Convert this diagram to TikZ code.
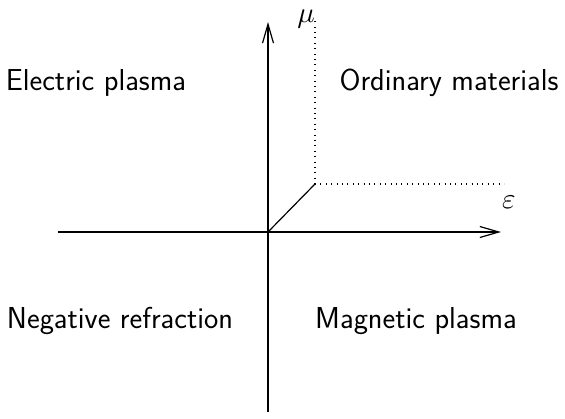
\documentclass[tikz,border=0pt]{standalone}
\usetikzlibrary{arrows.meta}
\begin{document}
\begin{tikzpicture}[x=1pt,y=-1pt,
  axis/.style={line width=1.2pt,-{Straight Barb[length=19pt,width=11pt]}},
  guide/.style={line width=1.3pt,dash pattern=on 0.9pt off 4.5pt},
  region/.style={font=\sffamily\fontsize{30.3}{35}\selectfont,anchor=base,inner sep=0pt},
  sym/.style={scale=2.9,inner sep=0pt}]
\useasboundingbox (0,0) rectangle (565,418);
\coordinate (O) at (268,232);
\coordinate (L) at (58,232);
\coordinate (R) at (501,232);
\coordinate (B) at (268,412);
\coordinate (T) at (268,22);
\coordinate (P) at (315,184);
\coordinate (Pt) at (315,20);
\coordinate (Pr) at (504,184);
\draw[axis] (L) -- (R);
\draw[axis] (B) -- (T);
\draw[guide] (P) -- (Pt);
\draw[guide] (P) -- (Pr);
\draw[line width=1.2pt] (O) -- (P);
\node[sym] (mu) at (306,19) {$\mu$};
\node[sym] (eps) at (509,202) {$\varepsilon$};
\node[region] (ep) at (96,90) {Electric plasma};
\node[region] (om) at (449,90) {Ordinary materials};
\node[region] (nr) at (120,328) {Negative refraction};
\node[region] (mp) at (416,328) {Magnetic plasma};
\end{tikzpicture}
\end{document}
